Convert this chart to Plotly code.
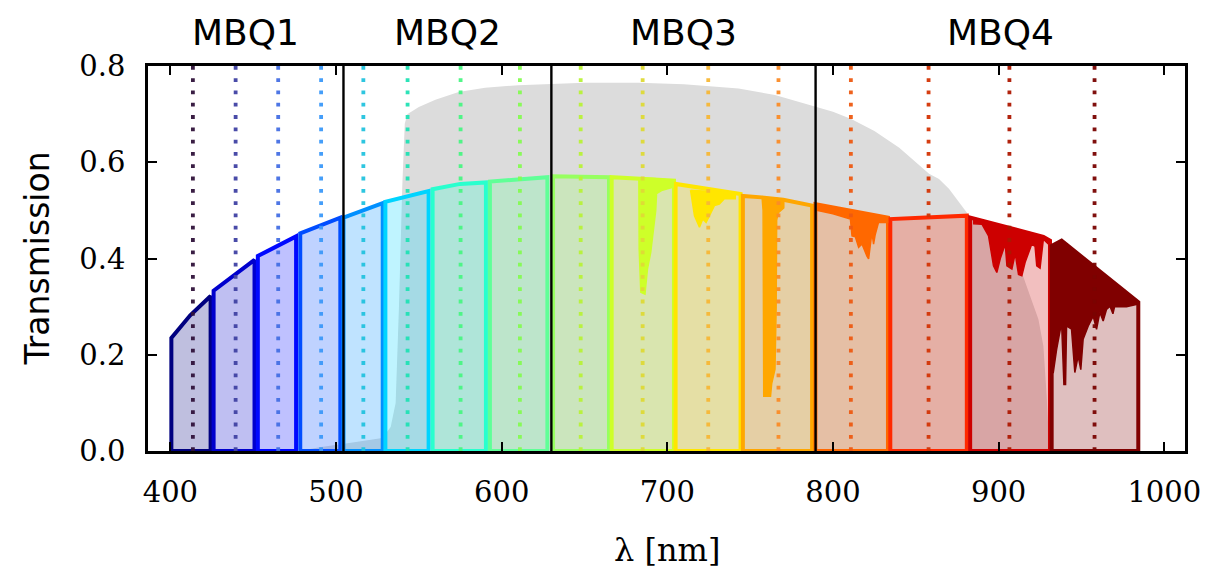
import numpy as np
import plotly.graph_objects as go
from plotly.colors import sample_colorscale

# ---------------- data ----------------
# filter top profiles (wavelength nm, transmission) -- edges drop to 0 at first/last wavelength
FILTER_TOP_LAM = [
    [400.6, 412.0, 424.3],
    [426.1, 450.8],
    [452.8, 475.9],
    [478.4, 502.6],
    [504.5, 528.2],
    [529.8, 555.9],
    [558.3, 575.0, 590.5],
    [592.9, 627.6],
    [631.0, 664.8],
    [666.4, 704.0],
    [705.0, 744.2],
    [745.6, 757.0, 770.0, 787.4],
    [789.4, 833.2],
    [834.6, 880.8],
    [882.8, 927.0, 931.0],
    [932.0, 938.0, 984.3],
]
FILTER_TOP_T = [
    [0.235, 0.282, 0.322],
    [0.333, 0.397],
    [0.405, 0.446],
    [0.452, 0.485],
    [0.485, 0.515],
    [0.518, 0.540],
    [0.544, 0.555, 0.558],
    [0.560, 0.569],
    [0.571, 0.569],
    [0.569, 0.562],
    [0.555, 0.534],
    [0.530, 0.527, 0.522, 0.510],
    [0.513, 0.485],
    [0.482, 0.489],
    [0.485, 0.445, 0.437],
    [0.426, 0.437, 0.309],
]

# filter central wavelengths (dotted lines)
CENTERS = [413.6, 439.4, 465.1, 491.0, 516.5, 543.2, 575.2, 611.0,
           647.7, 685.1, 724.7, 767.1, 810.8, 857.7, 906.5, 957.9]

# MBQ block boundaries (solid black lines) and names
BOUNDARIES = [504.5, 630.0, 789.5]
BLOCK_NAMES = ["MBQ1", "MBQ2", "MBQ3", "MBQ4"]

# telluric absorption regions (closed polygons) and the filter each belongs to
BAND_FILTER = [9, 10, 11, 12, 14, 15]
BAND_LAM = [
    [682.8, 692.0, 703.5, 703.5, 697.0, 693.5, 693.0, 691.5, 690.0, 688.0, 686.5, 684.0, 683.0],
    [714.0, 741.0, 741.0, 734.4, 731.4, 728.4, 726.4, 723.4, 721.4, 719.4, 716.4, 714.5],
    [757.2, 765.7, 770.3, 770.3, 767.0, 766.0, 765.7, 765.0, 763.0, 762.3, 758.2, 757.8],
    [790.5, 810.0, 833.0, 833.0, 827.5, 825.5, 824.5, 823.5, 822.5, 821.5, 820.5,
     817.5, 815.5, 813.5, 811.5, 810.5, 800.0, 790.5],
    [885.0, 927.0, 930.0, 930.0, 927.0, 925.0, 923.0, 922.0, 920.0, 916.0, 914.0,
     912.0, 910.0, 908.0, 905.0, 904.0, 901.0, 898.9, 896.9, 893.9, 890.0, 885.0],
    [932.5, 938.0, 984.0, 984.0, 977.2, 972.2, 970.0, 969.0, 967.2, 965.1, 963.1,
     961.1, 959.1, 957.1, 954.1, 951.0, 949.6, 948.0, 946.0, 944.0, 941.0, 940.4,
     939.4, 938.0, 935.0, 933.0, 932.5],
]
BAND_T = [
    [0.567, 0.566, 0.562, 0.548, 0.542, 0.535, 0.500, 0.450, 0.413, 0.378, 0.326, 0.330, 0.420],
    [0.542, 0.536, 0.524, 0.524, 0.513, 0.510, 0.496, 0.475, 0.482, 0.465, 0.489, 0.530],
    [0.527, 0.525, 0.522, 0.505, 0.495, 0.480, 0.300, 0.170, 0.140, 0.114, 0.114, 0.500],
    [0.512, 0.500, 0.486, 0.475, 0.475, 0.450, 0.430, 0.454, 0.430, 0.399, 0.405,
     0.430, 0.423, 0.445, 0.447, 0.482, 0.493, 0.500],
    [0.484, 0.445, 0.441, 0.430, 0.440, 0.380, 0.385, 0.425, 0.430, 0.392, 0.364,
     0.367, 0.410, 0.378, 0.385, 0.430, 0.400, 0.371, 0.385, 0.447, 0.471, 0.472],
    [0.426, 0.437, 0.310, 0.305, 0.300, 0.300, 0.300, 0.285, 0.301, 0.294, 0.270,
     0.288, 0.253, 0.280, 0.260, 0.232, 0.169, 0.197, 0.163, 0.253, 0.260, 0.138,
     0.138, 0.267, 0.211, 0.163, 0.163],
]

# broad-band (grey) transmission curve
GREY_LAM = [478, 490, 505, 520, 528, 533, 536, 538, 540, 541.5, 543, 550, 560, 574,
            590, 610, 629, 650, 683, 710, 743, 765, 777, 787, 800, 811, 825, 840,
            858, 864, 870, 882, 895, 905, 912, 919, 924, 927, 929, 930.5, 932]
GREY_T = [0.0, 0.008, 0.015, 0.022, 0.027, 0.05, 0.10, 0.30, 0.55, 0.68, 0.70, 0.715,
          0.73, 0.746, 0.755, 0.76, 0.763, 0.765, 0.765, 0.762, 0.753, 0.74, 0.728,
          0.718, 0.705, 0.69, 0.665, 0.63, 0.576, 0.565, 0.545, 0.49, 0.455, 0.42,
          0.39, 0.322, 0.274, 0.218, 0.114, 0.01, 0.0]

X_RANGE = [386.5, 1012.5]
Y_RANGE = [0.0, 0.8]
X_TICKS = [400, 500, 600, 700, 800, 900, 1000]
Y_TICKS = [0.0, 0.2, 0.4, 0.6, 0.8]


# ---------------- styling helpers ----------------
def mpl_jet(t):
    r = np.interp(t, [0, 0.35, 0.66, 0.89, 1], [0, 0, 1, 1, 0.5])
    g = np.interp(t, [0, 0.125, 0.375, 0.64, 0.91, 1], [0, 0, 1, 1, 0, 0])
    b = np.interp(t, [0, 0.11, 0.34, 0.65, 1], [0.5, 1, 1, 0, 0])
    return int(round(r * 255)), int(round(g * 255)), int(round(b * 255))


n = len(FILTER_TOP_LAM)
ts = [i / (n - 1) for i in range(n)]
jet = [mpl_jet(t) for t in ts]
line_cols = ["rgb(%d,%d,%d)" % c for c in jet]
fill_cols = ["rgba(%d,%d,%d,0.25)" % c for c in jet]
dot_cols = sample_colorscale("Turbo", ts)

SERIF = "DejaVu Serif"
SANS = "DejaVu Sans"

fig = go.Figure()

# grey broad-band curve
fig.add_trace(go.Scatter(x=GREY_LAM, y=GREY_T, mode="lines", fill="tozeroy",
                         fillcolor="rgb(220,220,220)", line=dict(width=0),
                         hoverinfo="skip", showlegend=False))

# filters
for i in range(n):
    lam = FILTER_TOP_LAM[i]
    tt = FILTER_TOP_T[i]
    xs = [lam[0]] + lam + [lam[-1], lam[0]]
    ys = [0.0] + tt + [0.0, 0.0]
    fig.add_trace(go.Scatter(x=xs, y=ys, mode="lines", fill="toself",
                             fillcolor=fill_cols[i],
                             line=dict(color=line_cols[i], width=4, shape="linear"),
                             hoverinfo="skip", showlegend=False))

# telluric absorption regions
for k, fi in enumerate(BAND_FILTER):
    fig.add_trace(go.Scatter(x=BAND_LAM[k] + [BAND_LAM[k][0]],
                             y=BAND_T[k] + [BAND_T[k][0]],
                             mode="lines", fill="toself", fillcolor=line_cols[fi],
                             line=dict(color=line_cols[fi], width=1.5),
                             hoverinfo="skip", showlegend=False))

# dotted centre lines
for i, c in enumerate(CENTERS):
    fig.add_trace(go.Scatter(x=[c, c], y=Y_RANGE, mode="lines",
                             line=dict(color=dot_cols[i], width=3.8, dash="3.8px,8.5px"),
                             opacity=0.95, hoverinfo="skip", showlegend=False))

# block boundaries
for b in BOUNDARIES:
    fig.add_trace(go.Scatter(x=[b, b], y=Y_RANGE, mode="lines",
                             line=dict(color="black", width=2.4),
                             hoverinfo="skip", showlegend=False))

# block labels centred between boundaries / axis edges
edges = [X_RANGE[0]] + BOUNDARIES + [X_RANGE[1]]
for j, name in enumerate(BLOCK_NAMES):
    fig.add_annotation(x=(edges[j] + edges[j + 1]) / 2, xref="x", y=1.086, yref="paper",
                       text=name, showarrow=False, xanchor="center", yanchor="middle",
                       font=dict(family=SANS, size=36, color="black"))

# axis titles
fig.add_annotation(x=0.5, xref="paper", y=-0.257, yref="paper", text="λ [nm]",
                   showarrow=False, xanchor="center", yanchor="middle",
                   font=dict(family=SERIF, size=32, color="black"))
fig.add_annotation(x=-0.107, xref="paper", y=0.5, yref="paper", text="Transmission",
                   showarrow=False, textangle=-90, xanchor="center", yanchor="middle",
                   font=dict(family=SANS, size=33, color="black"))

axis_common = dict(showline=True, linecolor="black", linewidth=2.5, mirror="allticks",
                   ticks="inside", tickcolor="black", tickwidth=1.8, ticklen=9,
                   showgrid=False, zeroline=False,
                   tickfont=dict(family=SERIF, size=29, color="black"))

fig.update_xaxes(range=X_RANGE, tickvals=X_TICKS, ticklabelstandoff=13, **axis_common)
fig.update_yaxes(range=Y_RANGE, tickvals=Y_TICKS, tickformat=".1f",
                 ticklabelstandoff=14, **axis_common)

fig.update_layout(width=1226, height=580, margin=dict(l=148, r=41, t=66, b=129),
                  paper_bgcolor="white", plot_bgcolor="white")

fig.write_html("out.html")
